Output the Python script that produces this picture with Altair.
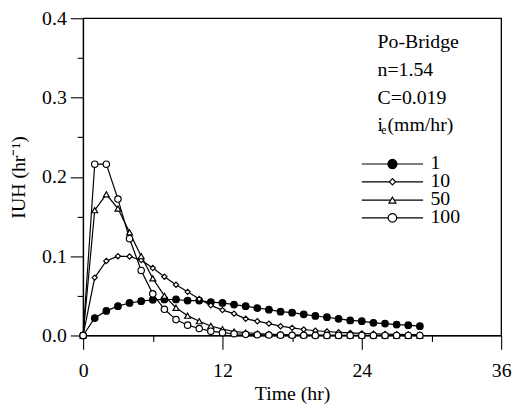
import altair as alt
import pandas as pd

# ---------------- data ----------------
hours = list(range(30))
series_labels = ["1", "10", "50", "100"]

iuh_1 = [0.0, 0.022, 0.031, 0.037, 0.041, 0.0433, 0.045, 0.0454, 0.0454, 0.044,
         0.044, 0.042, 0.041, 0.039, 0.037, 0.0346, 0.0325, 0.030, 0.0288, 0.0267,
         0.0246, 0.023, 0.021, 0.019, 0.018, 0.016, 0.015, 0.0138, 0.013, 0.0117]
iuh_10 = [0.0, 0.073, 0.094, 0.100, 0.0996, 0.095, 0.085, 0.074, 0.064, 0.055,
          0.046, 0.038, 0.032, 0.0275, 0.021, 0.018, 0.015, 0.0117, 0.0096, 0.0075,
          0.006, 0.005, 0.004, 0.0033, 0.0027, 0.0022, 0.0018, 0.0015, 0.0012, 0.001]
iuh_50 = [0.0, 0.158, 0.178, 0.160, 0.130, 0.100, 0.072, 0.050, 0.035, 0.025,
          0.018, 0.012, 0.008, 0.005, 0.0035, 0.0024, 0.0016, 0.0011, 0.0008, 0.0005,
          0.0004, 0.0003, 0.0002, 0.0002, 0.0001, 0.0001, 0.0001, 0.0, 0.0, 0.0]
iuh_100 = [0.0, 0.216, 0.216, 0.172, 0.122, 0.082, 0.0525, 0.033, 0.020, 0.013,
           0.0088, 0.0054, 0.0035, 0.0022, 0.0014, 0.0009, 0.0006, 0.0004, 0.0003, 0.0002,
           0.0001, 0.0001, 0.0001, 0.0, 0.0, 0.0, 0.0, 0.0, 0.0, 0.0]

annotation_lines = ["Po-Bridge", "n=1.54", "C=0.019"]
x_ticks = [0, 6, 12, 18, 24, 30, 36]
y_ticks = [0.0, 0.05, 0.1, 0.15, 0.2, 0.25, 0.3, 0.35, 0.4]

rows = []
for lab, vals in zip(series_labels, [iuh_1, iuh_10, iuh_50, iuh_100]):
    for t, v in zip(hours, vals):
        rows.append({"t": t, "iuh": v, "ie": lab})
df = pd.DataFrame(rows)

FONT = "Liberation Serif"
FS = 20

marker_style = {
    "1": dict(shape="circle", fill="black", size=44),
    "10": dict(shape="diamond", fill="white", size=28),
    "50": dict(shape="triangle-up", fill="white", size=36),
    "100": dict(shape="circle", fill="white", size=42),
}
legend_marker_size = {"1": 85, "10": 40, "50": 48, "100": 75}

x_scale = alt.Scale(domain=[0, 36], nice=False, zero=False)
y_scale = alt.Scale(domain=[0, 0.4], nice=False)

MAJ_Y = "abs(datum.value*10 - round(datum.value*10)) < 0.001"
x_axis = alt.Axis(
    values=x_ticks, orient="bottom",
    labelExpr="datum.value % 12 === 0 ? datum.label : ''",
    tickSize={"condition": {"test": "datum.value % 12 === 0", "value": 14}, "value": 6},
    labelPadding=12, labelFlush=False, labelOverlap=False,
    title="Time (hr)", titlePadding=3, titleFontWeight=400,
)
y_axis = alt.Axis(
    values=y_ticks, orient="left",
    labelExpr=MAJ_Y + " ? format(datum.value, '.1f') : ''",
    tickSize={"condition": {"test": MAJ_Y, "value": 13}, "value": 6},
    labelPadding=4, labelOverlap=False,
    title="IUH (hr⁻¹)", titlePadding=13, titleFontWeight=400,
)

base = alt.Chart(df)

line_layers = []
point_layers = []
for i, lab in enumerate(series_labels):
    sub = base.transform_filter(alt.datum.ie == lab)
    X = alt.X("t:Q", scale=x_scale, axis=x_axis if i == 0 else None)
    Y = alt.Y("iuh:Q", scale=y_scale, axis=y_axis if i == 0 else None)
    line_layers.append(
        sub.mark_line(color="black", strokeWidth=1.2).encode(x=X, y=Y)
    )
    st = marker_style[lab]
    point_layers.append(
        sub.mark_point(shape=st["shape"], filled=True, fill=st["fill"], stroke="black",
                       strokeWidth=1.2, size=st["size"], opacity=1).encode(
            x=alt.X("t:Q", scale=x_scale, axis=None),
            y=alt.Y("iuh:Q", scale=y_scale, axis=None))
    )

# ---------------- annotation text (pixel placement inside plot area) ----------------
one = pd.DataFrame({"k": [0]})
text_x = 298
text_y = [30, 58, 86.5]
ann_layers = []
for s, ty in zip(annotation_lines, text_y):
    ann_layers.append(
        alt.Chart(one).mark_text(text=s, font=FONT, fontSize=FS, align="left",
                                 baseline="alphabetic", color="black").encode(
            x=alt.value(text_x), y=alt.value(ty))
    )
# i_e(mm/hr) with subscript e
ann_layers.append(alt.Chart(one).mark_text(text="i", font=FONT, fontSize=FS, align="left",
                  baseline="alphabetic", color="black").encode(x=alt.value(text_x), y=alt.value(114.5)))
ann_layers.append(alt.Chart(one).mark_text(text="e", font=FONT, fontSize=12, align="left",
                  baseline="alphabetic", color="black").encode(x=alt.value(text_x + 3.8), y=alt.value(117.5)))
ann_layers.append(alt.Chart(one).mark_text(text="(mm/hr)", font=FONT, fontSize=FS, align="left",
                  baseline="alphabetic", color="black").encode(x=alt.value(text_x + 10), y=alt.value(114.5)))

# ---------------- legend ----------------
legend_rows_y = [147.5, 165.5, 184, 202]
leg_layers = []
for lab, ry in zip(series_labels, legend_rows_y):
    ld = pd.DataFrame({"ie": [lab]})
    st = marker_style[lab]
    leg_layers.append(
        alt.Chart(ld).mark_rule(color="black", strokeWidth=1.2).encode(
            x=alt.value(282), x2=alt.value(344), y=alt.value(ry))
    )
    leg_layers.append(
        alt.Chart(ld).mark_point(shape=st["shape"], filled=True, fill=st["fill"], stroke="black",
                                 strokeWidth=1.2, size=legend_marker_size[lab], opacity=1).encode(
            x=alt.value(313), y=alt.value(ry))
    )
    leg_layers.append(
        alt.Chart(ld).mark_text(font=FONT, fontSize=FS, align="left", baseline="middle",
                                color="black").encode(
            x=alt.value(351.5), y=alt.value(ry - 1), text="ie:N")
    )

chart = alt.layer(*line_layers, *point_layers, *ann_layers, *leg_layers).resolve_axis(
    x="independent", y="independent"
).properties(
    width=423, height=321,
    autosize=alt.AutoSizeParams(type="none"),
    padding={"left": 76, "top": 8, "right": 12, "bottom": 70},
).configure_view(
    stroke="black", strokeWidth=1.3
).configure_axis(
    grid=False, domainColor="black", domainWidth=1.1, tickColor="black", tickWidth=1.1,
    labelFont=FONT, labelFontSize=FS, labelColor="black",
    titleFont=FONT, titleFontSize=FS, titleFontWeight=400, titleColor="black",
)

chart.save("out.html", embed_options={"renderer": "svg", "actions": False})
